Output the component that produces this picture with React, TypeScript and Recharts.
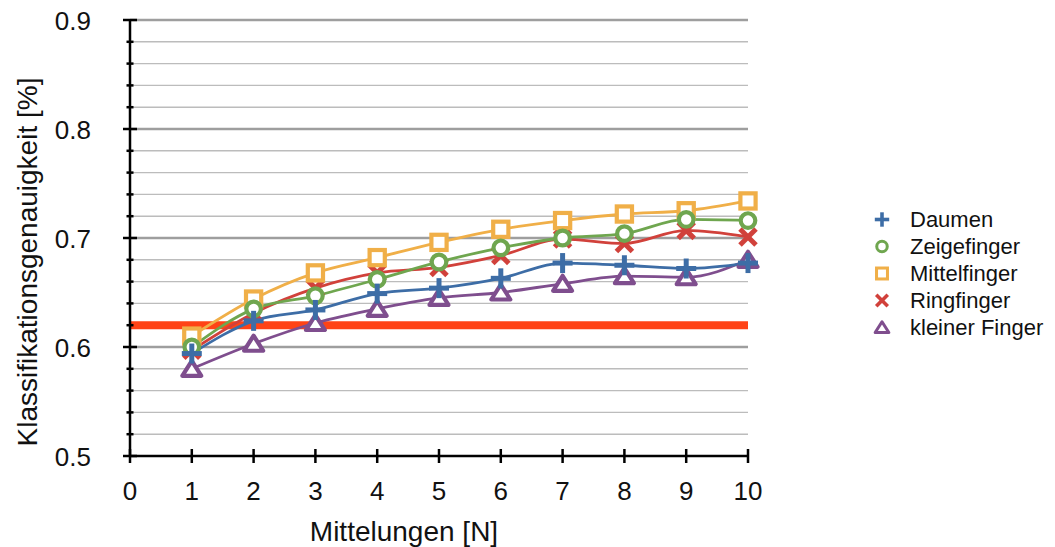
import React from 'react';
import {
  LineChart,
  Line,
  XAxis,
  YAxis,
  CartesianGrid,
  ReferenceLine,
} from 'recharts';

// x = Mittelungen N
const MITTELUNGEN = [1, 2, 3, 4, 5, 6, 7, 8, 9, 10];
const DAUMEN = [0.594, 0.624, 0.634, 0.649, 0.654, 0.663, 0.677, 0.675, 0.672, 0.677];
const ZEIGEFINGER = [0.6, 0.635, 0.647, 0.662, 0.678, 0.691, 0.7, 0.704, 0.717, 0.716];
const MITTELFINGER = [0.61, 0.644, 0.668, 0.682, 0.696, 0.708, 0.716, 0.722, 0.725, 0.734];
const RINGFINGER = [0.597, 0.631, 0.654, 0.668, 0.673, 0.684, 0.699, 0.695, 0.707, 0.701];
const KLEINER_FINGER = [0.58, 0.603, 0.622, 0.635, 0.645, 0.65, 0.658, 0.665, 0.664, 0.68];

const BASELINE = 0.62;

const X_TICKS = [0, 1, 2, 3, 4, 5, 6, 7, 8, 9, 10];
const Y_TICKS = [0.5, 0.52, 0.54, 0.56, 0.58, 0.6, 0.62, 0.64, 0.66, 0.68, 0.7, 0.72, 0.74, 0.76, 0.78, 0.8, 0.82, 0.84, 0.86, 0.88, 0.9];
const Y_MAJOR = [0.6, 0.7, 0.8, 0.9];

const X_TITLE = 'Mittelungen [N]';
const Y_TITLE = 'Klassifikationsgenauigkeit [%]';

const data = MITTELUNGEN.map((n, i) => ({
  n,
  daumen: DAUMEN[i],
  zeige: ZEIGEFINGER[i],
  mittel: MITTELFINGER[i],
  ring: RINGFINGER[i],
  klein: KLEINER_FINGER[i],
}));

const FONT = '"Liberation Sans", Arial, Helvetica, sans-serif';
const W = 1055;
const H = 547;
const PLOT_LEFT = 130;
const PLOT_BOTTOM = 456;

const BLUE = '#3D6DA6';
const GREEN = '#6FA64F';
const ORANGE = '#F0AF48';
const RED = '#D1413B';
const PURPLE = '#7F4E8E';
const LINE_RED = '#FF4316';

type Shape = 'plus' | 'circle' | 'square' | 'cross' | 'triangle';

const Marker = ({ shape, cx, cy, color }: { shape: Shape; cx: number; cy: number; color: string }) => {
  if (shape === 'plus') {
    return (
      <g stroke={color} strokeWidth={5}>
        <line x1={cx - 10} y1={cy} x2={cx + 10} y2={cy} />
        <line x1={cx} y1={cy - 10} x2={cx} y2={cy + 10} />
      </g>
    );
  }
  if (shape === 'circle') {
    return <circle cx={cx} cy={cy} r={7.3} fill="#fff" stroke={color} strokeWidth={4.2} />;
  }
  if (shape === 'square') {
    return <rect x={cx - 7.6} y={cy - 7.6} width={15.2} height={15.2} fill="#fff" stroke={color} strokeWidth={4.2} />;
  }
  if (shape === 'cross') {
    return (
      <g stroke={color} strokeWidth={5}>
        <line x1={cx - 8} y1={cy - 8} x2={cx + 8} y2={cy + 8} />
        <line x1={cx - 8} y1={cy + 8} x2={cx + 8} y2={cy - 8} />
      </g>
    );
  }
  return (
    <polygon
      points={`${cx},${cy - 8} ${cx + 9.5},${cy + 7} ${cx - 9.5},${cy + 7}`}
      fill="#fff"
      stroke={color}
      strokeWidth={4.2}
      strokeLinejoin="round"
    />
  );
};

const makeDot = (shape: Shape, color: string) => (props: any) => {
  const { cx, cy, index } = props;
  if (cx == null || cy == null) return <g key={`d-${shape}-${index}`} />;
  return (
    <g key={`d-${shape}-${index}`}>
      <Marker shape={shape} cx={cx} cy={cy} color={color} />
    </g>
  );
};

const SERIES: { key: string; name: string; color: string; shape: Shape }[] = [
  { key: 'klein', name: 'kleiner Finger', color: PURPLE, shape: 'triangle' },
  { key: 'ring', name: 'Ringfinger', color: RED, shape: 'cross' },
  { key: 'mittel', name: 'Mittelfinger', color: ORANGE, shape: 'square' },
  { key: 'zeige', name: 'Zeigefinger', color: GREEN, shape: 'circle' },
  { key: 'daumen', name: 'Daumen', color: BLUE, shape: 'plus' },
];
const LEGEND_ORDER = ['daumen', 'zeige', 'mittel', 'ring', 'klein'];

const YTick = (props: any) => {
  const { y, payload } = props;
  const v = payload.value as number;
  const major = Math.abs(v * 10 - Math.round(v * 10)) < 1e-6;
  const len = major ? 7 : 3.5;
  return (
    <g>
      <line x1={PLOT_LEFT - len} y1={y} x2={PLOT_LEFT + len} y2={y} stroke="#000" strokeWidth={2.5} />
      {major && (
        <text x={PLOT_LEFT - 39} y={y + 10} textAnchor="end" fontSize={26} fill="#111" fontFamily={FONT}>
          {v.toFixed(1)}
        </text>
      )}
    </g>
  );
};

const XTick = (props: any) => {
  const { x, payload } = props;
  return (
    <g>
      <line x1={x} y1={PLOT_BOTTOM - 7} x2={x} y2={PLOT_BOTTOM + 7} stroke="#000" strokeWidth={2.5} />
      <text x={x} y={PLOT_BOTTOM + 44} textAnchor="middle" fontSize={26} fill="#111" fontFamily={FONT}>
        {payload.value}
      </text>
    </g>
  );
};

const YTitle = (props: any) => {
  const { viewBox } = props;
  const cx = viewBox.x + 27;
  const cy = viewBox.y + viewBox.height / 2 + 24;
  return (
    <text
      x={cx}
      y={cy}
      transform={`rotate(-90 ${cx} ${cy})`}
      textAnchor="middle"
      dominantBaseline="central"
      fontSize={28}
      fill="#111"
      fontFamily={FONT}
    >
      {Y_TITLE}
    </text>
  );
};

const XTitle = (props: any) => {
  const { viewBox } = props;
  return (
    <text
      x={viewBox.x + viewBox.width / 2 - 35}
      y={viewBox.y + 85}
      textAnchor="middle"
      fontSize={28}
      fill="#111"
      fontFamily={FONT}
    >
      {X_TITLE}
    </text>
  );
};

export default function App() {
  return (
    <div style={{ position: 'absolute', left: 0, top: 0, width: W, height: H, background: '#fff', fontFamily: FONT }}>
      <LineChart width={W} height={H} data={data} margin={{ top: 20, right: 307, left: 0, bottom: 0 }}>
        <CartesianGrid vertical={false} stroke="#bcbcbc" strokeWidth={1.4} />
        {Y_MAJOR.map((v) => (
          <ReferenceLine key={`maj-${v}`} y={v} stroke="#9e9e9e" strokeWidth={2.4} />
        ))}
        <ReferenceLine y={BASELINE} stroke={LINE_RED} strokeWidth={8} />
        <XAxis
          dataKey="n"
          type="number"
          domain={[0, 10]}
          ticks={X_TICKS}
          height={91}
          axisLine={{ stroke: '#000', strokeWidth: 2.5 }}
          tickLine={false}
          tick={<XTick />}
          interval={0}
          label={<XTitle />}
        />
        <YAxis
          type="number"
          domain={[0.5, 0.9]}
          ticks={Y_TICKS}
          width={130}
          axisLine={{ stroke: '#000', strokeWidth: 2.5 }}
          tickLine={false}
          tick={<YTick />}
          interval={0}
          allowDataOverflow
          label={<YTitle />}
        />
        {SERIES.map((s) => (
          <Line
            key={s.key}
            type="monotone"
            dataKey={s.key}
            name={s.name}
            stroke={s.color}
            strokeWidth={2.8}
            dot={makeDot(s.shape, s.color)}
            activeDot={false}
            isAnimationActive={false}
          />
        ))}
      </LineChart>
      <div style={{ position: 'absolute', left: 868, top: 206, width: 187 }}>
        {LEGEND_ORDER.map((k) => {
          const s = SERIES.find((e) => e.key === k)!;
          return (
            <div key={k} style={{ display: 'flex', alignItems: 'center', height: 27 }}>
              <svg width={28} height={27} style={{ flexShrink: 0 }}>
                <g transform="translate(14 13.5) scale(0.72) translate(-14 -13.5)">
                  <Marker shape={s.shape} cx={14} cy={13.5} color={s.color} />
                </g>
              </svg>
              <span style={{ marginLeft: 14, fontSize: 22, color: '#111', whiteSpace: 'nowrap', lineHeight: '27px' }}>
                {s.name}
              </span>
            </div>
          );
        })}
      </div>
    </div>
  );
}
